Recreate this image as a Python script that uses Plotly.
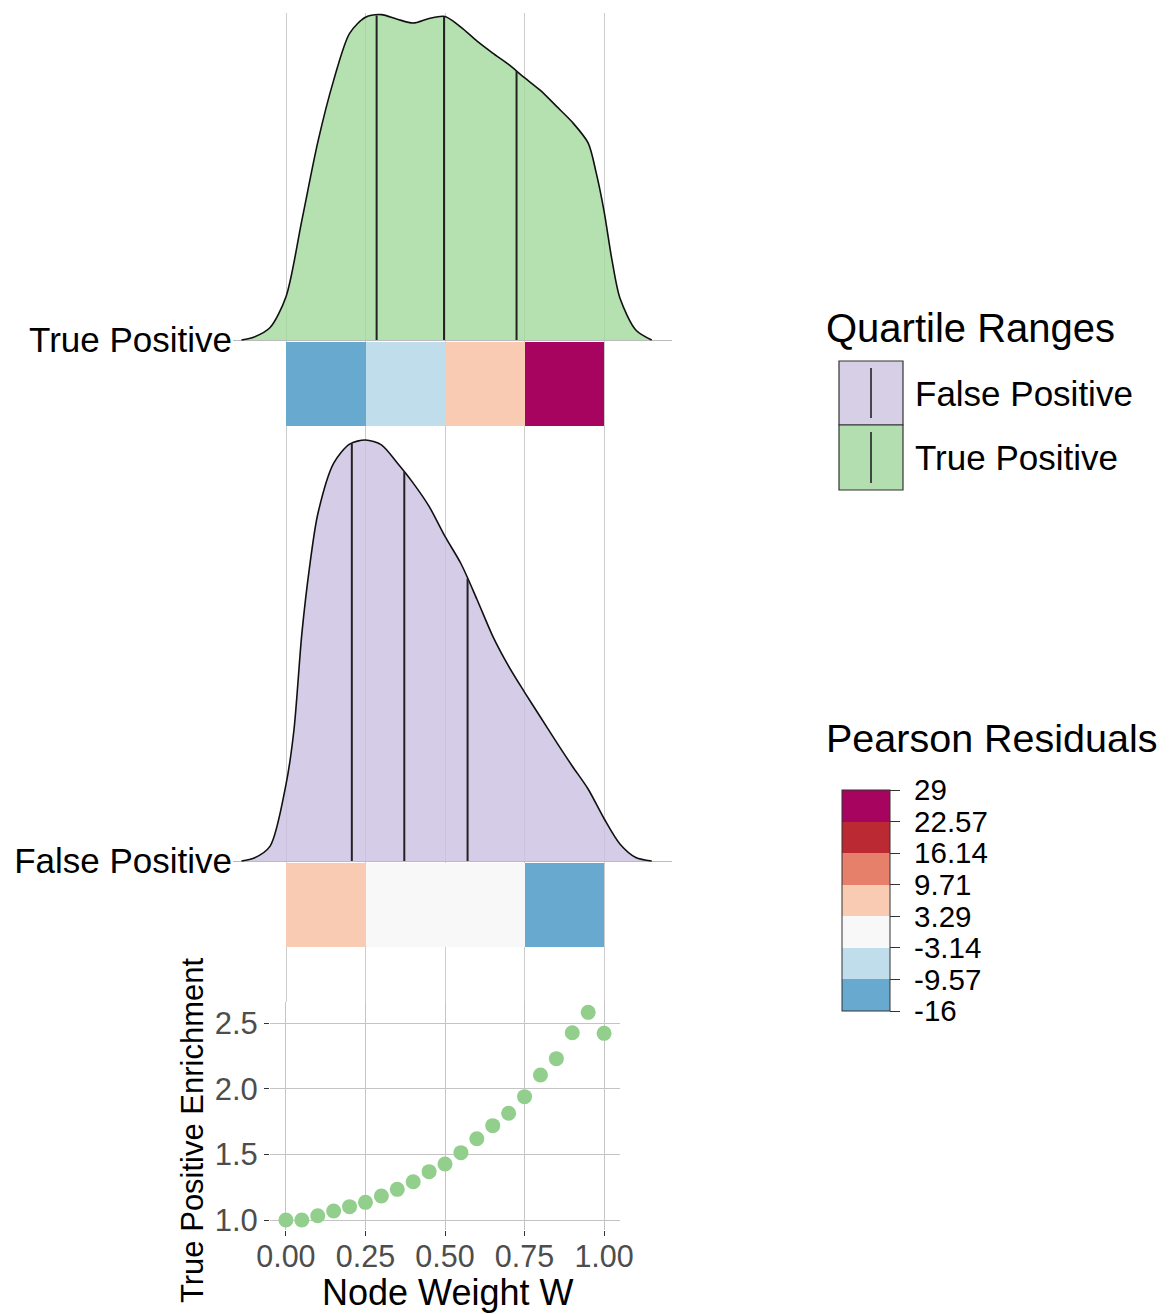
import numpy as np
import plotly.graph_objects as go

# ---------------- data ----------------
groups = ["False Positive", "True Positive"]

tp_x = [-0.14, -0.10, -0.05, 0.00, 0.05, 0.10, 0.15, 0.20, 0.25, 0.30, 0.35, 0.40, 0.45, 0.50,
        0.55, 0.60, 0.65, 0.70, 0.75, 0.80, 0.85, 0.90, 0.95, 0.975, 1.00, 1.025, 1.05, 1.10, 1.15]
tp_density = [0.000, 0.011, 0.046, 0.160, 0.443, 0.731, 0.960, 1.133, 1.192, 1.202, 1.185, 1.171,
              1.188, 1.195, 1.156, 1.105, 1.060, 1.018, 0.969, 0.922, 0.864, 0.805, 0.728, 0.620,
              0.477, 0.296, 0.155, 0.037, 0.000]

fp_x = [-0.14, -0.10, -0.05, 0.00, 0.025, 0.05, 0.075, 0.10, 0.15, 0.20, 0.25, 0.30, 0.35, 0.40,
        0.45, 0.50, 0.55, 0.60, 0.65, 0.70, 0.75, 0.80, 0.85, 0.90, 0.95, 1.00, 1.05, 1.10, 1.15]
fp_density = [0.000, 0.011, 0.055, 0.283, 0.484, 0.842, 1.094, 1.282, 1.470, 1.540, 1.555, 1.537,
              1.470, 1.396, 1.310, 1.199, 1.099, 0.968, 0.831, 0.720, 0.624, 0.532, 0.440, 0.351,
              0.266, 0.157, 0.063, 0.013, 0.000]

tp_quartiles = [0.285, 0.497, 0.725]
fp_quartiles = [0.207, 0.372, 0.571]

bin_edges = [0.0, 0.25, 0.50, 0.75, 1.0]
tp_residuals = [-12.6, -6.2, 5.8, 29.0]
fp_residuals = [6.4, -1.3, -2.0, -16.0]

resid_breaks = [-16, -9.57, -3.14, 3.29, 9.71, 16.14, 22.57, 29]
resid_labels = ["-16", "-9.57", "-3.14", "3.29", "9.71", "16.14", "22.57", "29"]
resid_colors = ["#68AACF", "#C0DDEC", "#F8F8F8", "#F9CBB3", "#E6806A", "#BB2933", "#A6045E"]

node_weight = [0.00, 0.05, 0.10, 0.15, 0.20, 0.25, 0.30, 0.35, 0.40, 0.45, 0.50,
               0.55, 0.60, 0.65, 0.70, 0.75, 0.80, 0.85, 0.90, 0.95, 1.00]
tp_enrichment = [1.000, 1.000, 1.033, 1.069, 1.102, 1.135, 1.183, 1.234, 1.292, 1.369, 1.427,
                 1.514, 1.620, 1.720, 1.814, 1.941, 2.106, 2.231, 2.429, 2.584, 2.424]

x_ticks = [0, 0.25, 0.5, 0.75, 1.0]
x_ticklabels = ["0.00", "0.25", "0.50", "0.75", "1.00"]
y_ticks = [1.0, 1.5, 2.0, 2.5]
y_ticklabels = ["1.0", "1.5", "2.0", "2.5"]

# ---------------- layout helpers ----------------
W, H = 1175, 1314
FONT = "Liberation Sans, Arial, Helvetica, sans-serif"


def px(xp):
    return xp / W


def py(yp):
    return 1 - yp / H


PX_PER_DENS = 270.7
base = {"False Positive": 0.0, "True Positive": (861 - 340) / PX_PER_DENS}
tile_top_off = 2 / PX_PER_DENS
tile_h = 83.5 / PX_PER_DENS

fills = {"True Positive": "rgba(161,217,155,0.8)", "False Positive": "rgba(203,193,225,0.8)"}
solid = {"True Positive": "#B2DEB0", "False Positive": "#D7CFE6"}

fig = go.Figure()

dens = {"True Positive": (tp_x, tp_density, tp_quartiles, tp_residuals),
        "False Positive": (fp_x, fp_density, fp_quartiles, fp_residuals)}

for g in ["True Positive", "False Positive"]:
    xs, ds, qs, rs = dens[g]
    b = base[g]
    yv = [b + d for d in ds]
    fig.add_trace(go.Scatter(x=xs, y=yv, mode="lines", fill="toself", fillcolor=fills[g],
                             line=dict(color="#111111", width=1.6, shape="spline", smoothing=0.8),
                             hoverinfo="skip", showlegend=False, xaxis="x", yaxis="y"))
    qx, qy = [], []
    for q in qs:
        top = float(np.interp(q, xs, ds))
        qx += [q, q, None]
        qy += [b, b + top, None]
    fig.add_trace(go.Scatter(x=qx, y=qy, mode="lines", line=dict(color="#222222", width=2),
                             hoverinfo="skip", showlegend=False, xaxis="x", yaxis="y"))
    fig.add_trace(go.Heatmap(z=[rs], x=bin_edges, y=[b - tile_top_off - tile_h, b - tile_top_off],
                             coloraxis="coloraxis", xaxis="x", yaxis="y", hoverinfo="skip"))

fig.add_trace(go.Scatter(x=node_weight, y=tp_enrichment, mode="markers",
                         marker=dict(size=15, color="#92CE8C", line=dict(width=0)),
                         showlegend=False, xaxis="x2", yaxis="y2"))

# discrete colorscale
cmin, cmax = resid_breaks[0], resid_breaks[-1]
cs = []
n = len(resid_colors)
for i, c in enumerate(resid_colors):
    cs.append([i / n, c])
    cs.append([(i + 1) / n, c])

top_panel_px = (13, 1002)
y_lo = -(top_panel_px[1] - 861) / PX_PER_DENS
y_hi = (861 - top_panel_px[0]) / PX_PER_DENS

fig.update_layout(
    width=W, height=H, autosize=False,
    margin=dict(l=0, r=0, t=0, b=0),
    paper_bgcolor="white", plot_bgcolor="white",
    font=dict(family=FONT, color="black"),
    showlegend=False,
    xaxis=dict(domain=[px(233), px(672)], range=[(233 - 286) / 318, (672 - 286) / 318],
               tickvals=x_ticks, showticklabels=False, ticks="", showgrid=True,
               gridcolor="#CCCCCC", gridwidth=1, zeroline=False, showline=False,
               anchor="y", fixedrange=True),
    yaxis=dict(domain=[py(top_panel_px[1]), py(top_panel_px[0])], range=[y_lo, y_hi],
               tickvals=[base[g] for g in groups], ticktext=groups, ticks="",
               tickfont=dict(size=35, color="black", family=FONT), showgrid=True,
               gridcolor="#BBBBBB", gridwidth=1, zeroline=False, showline=False,
               anchor="x", automargin=False),
    xaxis2=dict(domain=[px(270), px(620)], range=[-0.05, 1.05], tickvals=x_ticks,
                ticktext=x_ticklabels, ticks="outside", ticklen=5, tickcolor="#333333",
                tickfont=dict(size=30.5, color="#4D4D4D", family=FONT), showgrid=True,
                gridcolor="#C4C4C4", zeroline=False, showline=False, anchor="y2",
                ticklabelstandoff=-6, automargin=False),
    yaxis2=dict(domain=[py(1230.4), py(1002)], range=[0.921, 2.663], tickvals=y_ticks,
                ticktext=y_ticklabels, ticks="outside", ticklen=5, tickcolor="#333333",
                tickfont=dict(size=31, color="#4D4D4D", family=FONT), showgrid=True,
                gridcolor="#C4C4C4", zeroline=False, showline=False, anchor="x2",
                automargin=False),
    coloraxis=dict(colorscale=cs, cmin=cmin, cmax=cmax,
                   colorbar=dict(x=px(842), xanchor="left", xpad=0,
                                 y=py(790), yanchor="top", ypad=0,
                                 len=221, lenmode="pixels", thickness=48, thicknessmode="pixels",
                                 outlinewidth=1, outlinecolor="#333333",
                                 tickvals=resid_breaks, ticktext=[" " + t for t in resid_labels],
                                 ticks="outside", ticklen=10, tickcolor="#333333",
                                 tickfont=dict(size=29.5, color="black", family=FONT),
                                 title=dict(text=""))),
)

# axis titles
fig.add_annotation(x=px(447), y=py(1292), xref="paper", yref="paper", text="Node Weight W",
                   showarrow=False, font=dict(size=36, color="black", family=FONT),
                   xanchor="center", yanchor="middle")
fig.add_annotation(x=px(192), y=py(1130), xref="paper", yref="paper",
                   text="True Positive Enrichment", textangle=-90, showarrow=False,
                   font=dict(size=31, color="black", family=FONT),
                   xanchor="center", yanchor="middle")

# legend: Quartile Ranges
fig.add_annotation(x=px(824), y=py(328), xref="paper", yref="paper", text="Quartile Ranges",
                   showarrow=False, font=dict(size=40, color="black", family=FONT),
                   xanchor="left", yanchor="middle")
leg_items = [("False Positive", 361, 425), ("True Positive", 425, 490)]
for name, t, b_ in leg_items:
    fig.add_shape(type="rect", xref="paper", yref="paper", x0=px(839), x1=px(903),
                  y0=py(b_), y1=py(t), fillcolor=solid[name],
                  line=dict(color="#333333", width=1.2), layer="above")
    fig.add_shape(type="line", xref="paper", yref="paper", x0=px(871), x1=px(871),
                  y0=py(b_ - 7), y1=py(t + 7), line=dict(color="#222222", width=1.6),
                  layer="above")
    fig.add_annotation(x=px(913), y=py((t + b_) / 2), xref="paper", yref="paper", text=name,
                       showarrow=False, font=dict(size=35, color="black", family=FONT),
                       xanchor="left", yanchor="middle")

# legend: Pearson Residuals title
fig.add_annotation(x=px(824), y=py(738), xref="paper", yref="paper", text="Pearson Residuals",
                   showarrow=False, font=dict(size=39.5, color="black", family=FONT),
                   xanchor="left", yanchor="middle")

fig.write_html("out.html", config={"displayModeBar": False},
               post_script="document.body.style.margin='0';document.body.style.padding='0';")
